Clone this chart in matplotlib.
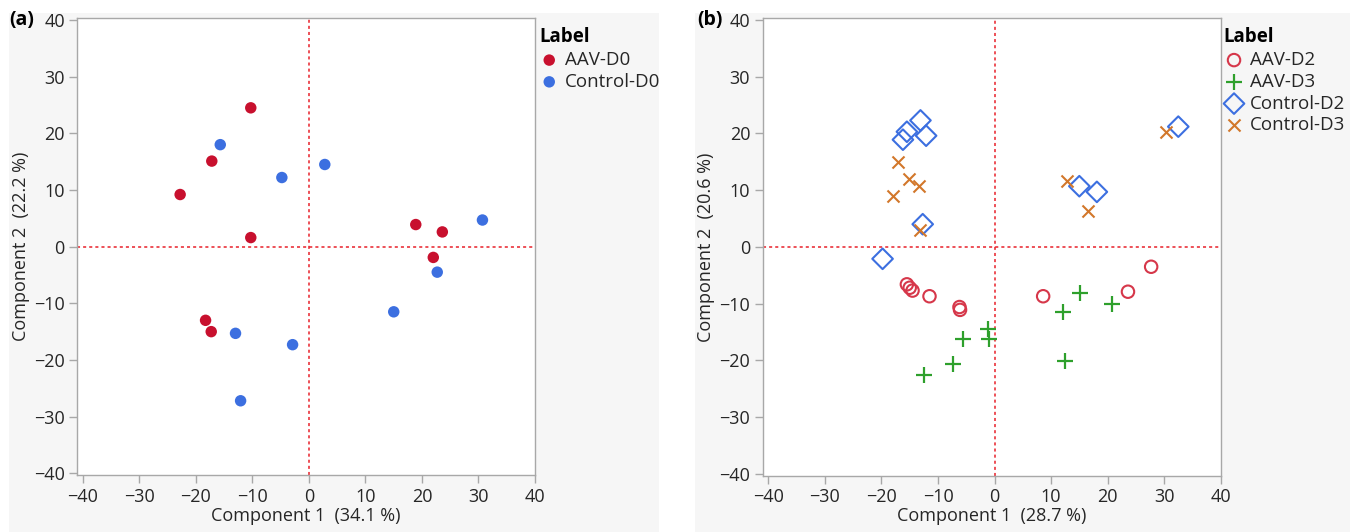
import matplotlib
matplotlib.use('Agg')
import matplotlib.pyplot as plt
from matplotlib.patches import Rectangle
import numpy as np

plt.rcParams['font.family'] = ['Open Sans', 'DejaVu Sans']

# ---- panel (a) data: PCA scores, day 0 ----
aav_d0_x = [-10.3, -17.2, -22.8, -10.3, -18.3, -17.3, 18.9, 23.6, 22.0]
aav_d0_y = [24.5, 15.1, 9.2, 1.6, -13.0, -15.0, 3.9, 2.6, -1.9]
ctl_d0_x = [-15.7, -4.8, 2.8, 30.7, 22.7, 15.0, -13.0, -2.9, -12.1]
ctl_d0_y = [18.0, 12.2, 14.5, 4.7, -4.5, -11.5, -15.3, -17.3, -27.2]

# ---- panel (b) data: days 2 and 3 ----
aav_d2_x = [-15.5, -15.0, -14.5, -11.5, -6.2, -6.1, 8.6, 23.6, 27.7]
aav_d2_y = [-6.6, -7.2, -7.7, -8.7, -10.6, -11.1, -8.7, -7.9, -3.5]
aav_d3_x = [-12.4, -7.4, -5.5, -1.1, -1.0, 12.1, 12.4, 15.1, 20.8]
aav_d3_y = [-22.6, -20.6, -16.3, -14.5, -16.3, -11.5, -20.1, -8.2, -10.1]
ctl_d2_x = [-13.1, -15.5, -16.2, -12.1, -12.7, -19.8, 15.0, 18.1, 32.5]
ctl_d2_y = [22.3, 20.3, 18.9, 19.6, 4.0, -2.1, 10.7, 9.7, 21.2]
ctl_d3_x = [-17.1, -15.2, -13.3, -17.9, -13.2, 12.9, 16.5, 30.3]
ctl_d3_y = [14.9, 12.0, 10.7, 9.0, 3.0, 11.6, 6.3, 20.2]

ticks = [-40, -30, -20, -10, 0, 10, 20, 30, 40]

RED = '#c8102e'
BLUE = '#3c6fe0'
RED2 = '#d6374a'
GREEN = '#2ea02c'
ORANGE = '#d2772a'
GRID_RED = '#e8202a'
SPINE = '#a8a8a8'
TXT = '#262626'

W, H = 1355, 532
fig = plt.figure(figsize=(W / 100, H / 100), dpi=100)
fig.patch.set_facecolor('white')

# grey panel backgrounds
fig.patches.append(Rectangle((9 / W, 0), 650 / W, 519 / H, transform=fig.transFigure,
                             facecolor='#f6f6f6', edgecolor='none', zorder=-10))
fig.patches.append(Rectangle((695 / W, 0), 655 / W, 519 / H, transform=fig.transFigure,
                             facecolor='#f6f6f6', edgecolor='none', zorder=-10))


def style_axes(ax, xlabel, ylabel):
    ax.set_facecolor('white')
    ax.set_xlim(-41, 40)
    ax.set_ylim(-40.3, 40.3)
    ax.set_xticks(ticks)
    ax.set_yticks(ticks)
    for s in ax.spines.values():
        s.set_color(SPINE)
        s.set_linewidth(1.0)
    ax.tick_params(axis='both', colors=SPINE, labelcolor=TXT, labelsize=13,
                   length=6, width=1.0, pad=3)
    # red tick at x = 0
    for t, v in zip(ax.xaxis.get_major_ticks(), ticks):
        if v == 0:
            t.tick1line.set_color(GRID_RED)
    ax.axhline(0, color=GRID_RED, ls=(0, (2, 2)), lw=1.1, zorder=1)
    ax.axvline(0, color=GRID_RED, ls=(0, (2, 2)), lw=1.1, zorder=1)
    ax.set_xlabel(xlabel, fontsize=13, color=TXT, labelpad=1)
    ax.set_ylabel(ylabel, fontsize=13, color=TXT, labelpad=3)


def add_legend(ax, dx):
    leg = ax.legend(title='Label', loc='upper left', bbox_to_anchor=(1.0 + dx, 1.005),
                    frameon=False, fontsize=13.5, alignment='left',
                    handletextpad=0.3, handlelength=1.1, borderaxespad=0.2,
                    labelspacing=0.2,
                    title_fontproperties={'weight': 'bold', 'size': 13.5})
    for t in leg.get_texts():
        t.set_color(TXT)


# ---------------- panel (a) ----------------
ax1 = fig.add_axes([77.3 / W, (H - 475) / H, (535 - 77.3) / W, (475 - 18.3) / H])
ax1.scatter(aav_d0_x, aav_d0_y, s=68, color=RED, edgecolors='none', label='AAV-D0', zorder=3)
ax1.scatter(ctl_d0_x, ctl_d0_y, s=68, color=BLUE, edgecolors='none', label='Control-D0', zorder=3)
style_axes(ax1, 'Component 1  (34.1 %)', 'Component 2  (22.2 %)')
add_legend(ax1, -0.016)
fig.text(9 / W, (H - 20) / H, '(a)', fontsize=14, fontweight='bold', va='center', ha='left')

# ---------------- panel (b) ----------------
ax2 = fig.add_axes([762.7 / W, (H - 475.5) / H, (1220.7 - 762.7) / W, (475.5 - 18.3) / H])
ax2.scatter(aav_d2_x, aav_d2_y, s=80, facecolors='none', edgecolors=RED2, linewidths=1.5,
            marker='o', label='AAV-D2', zorder=3)
ax2.scatter(aav_d3_x, aav_d3_y, s=130, color=GREEN, linewidths=1.6,
            marker='+', label='AAV-D3', zorder=3)
ax2.scatter(ctl_d2_x, ctl_d2_y, s=110, facecolors='none', edgecolors=BLUE, linewidths=1.5,
            marker='D', label='Control-D2', zorder=3)
ax2.scatter(ctl_d3_x, ctl_d3_y, s=75, color=ORANGE, linewidths=1.5,
            marker='x', label='Control-D3', zorder=3)
style_axes(ax2, 'Component 1  (28.7 %)', 'Component 2  (20.6 %)')
add_legend(ax2, -0.018)
fig.text(697 / W, (H - 20) / H, '(b)', fontsize=14, fontweight='bold', va='center', ha='left')

fig.savefig('out.png', dpi=100)
